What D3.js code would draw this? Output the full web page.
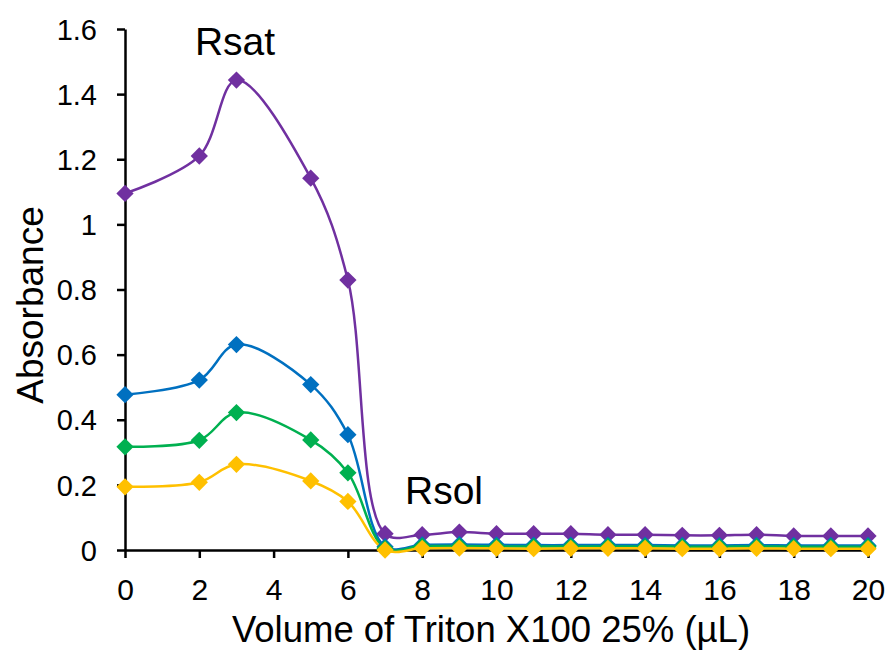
<!DOCTYPE html>
<html><head><meta charset="utf-8">
<script src="https://cdn.jsdelivr.net/npm/d3@7"></script>
<style>body{margin:0;background:#fff}</style>
</head><body>
<script>
const xValues = [0,2,3,5,6,7,8,9,10,11,12,13,14,15,16,17,18,19,20];
const purple = [1.095,1.21,1.443,1.142,0.829,0.05,0.047,0.055,0.05,0.05,0.05,0.047,0.047,0.045,0.045,0.047,0.043,0.043,0.043];
const blue   = [0.477,0.522,0.631,0.508,0.354,0.01,0.016,0.017,0.016,0.015,0.015,0.015,0.015,0.014,0.014,0.015,0.014,0.014,0.014];
const green  = [0.317,0.337,0.422,0.338,0.237,0.005,0.012,0.012,0.011,0.011,0.011,0.011,0.011,0.01,0.01,0.011,0.01,0.01,0.01];
const yellow = [0.194,0.208,0.263,0.212,0.149,0.0,0.005,0.006,0.005,0.004,0.005,0.005,0.005,0.004,0.004,0.005,0.004,0.004,0.004];
const seriesNames = ["purple","blue","green","yellow"];
const seriesColors = ["#7030A0","#0070C0","#00B050","#FFC000"];
const xTicks = [0,2,4,6,8,10,12,14,16,18,20];
const yTicks = [0,0.2,0.4,0.6,0.8,1,1.2,1.4,1.6];

const W=891,H=653;
const svg=d3.select("body").append("svg").attr("width",W).attr("height",H);
const x=d3.scaleLinear().domain([0,20]).range([125,868]);
const y=d3.scaleLinear().domain([0,1.6]).range([550,29]);
const font="Liberation Sans, Arial, sans-serif";

const yAxis=svg.append("g").attr("transform","translate(125,0)")
  .call(d3.axisLeft(y).tickValues(yTicks).tickSize(8).tickSizeOuter(0).tickFormat(d=>String(+d.toFixed(1))));
const xAxis=svg.append("g").attr("transform","translate(0,550)")
  .call(d3.axisBottom(x).tickValues(xTicks).tickSize(8).tickSizeOuter(0));
[yAxis,xAxis].forEach(g=>{
  g.attr("font-size",null).attr("font-family",null);
  g.select(".domain").attr("stroke","#000").attr("stroke-width",2.5);
  g.selectAll(".tick line").attr("stroke","#000").attr("stroke-width",2.5);
  g.selectAll(".tick text").attr("font-family",font).attr("fill","#000");
});
yAxis.selectAll(".tick text").attr("font-size",29).attr("x",-28).attr("dy","0.35em");
xAxis.selectAll(".tick text").attr("font-size",30).attr("y",50).attr("dy",0);

const all=[purple,blue,green,yellow];
const line=d3.line().x((d,i)=>x(xValues[i])).y(d=>y(d)).curve(d3.curveCatmullRom.alpha(0.5));
const sym=d3.symbol().type(d3.symbolDiamond2).size(190);
all.forEach((vals,k)=>{
  svg.append("path").datum(vals).attr("d",line).attr("fill","none").attr("stroke",seriesColors[k]).attr("stroke-width",2.5);
});
all.forEach((vals,k)=>{
  svg.append("g").selectAll("path").data(vals).join("path")
    .attr("transform",(d,i)=>`translate(${x(xValues[i])},${y(d)})`)
    .attr("d",sym).attr("fill",seriesColors[k]);
});

svg.append("text").attr("x",235).attr("y",55).attr("text-anchor","middle").attr("font-family",font).attr("font-size",39).text("Rsat");
svg.append("text").attr("x",444).attr("y",504).attr("text-anchor","middle").attr("font-family",font).attr("font-size",39).text("Rsol");
svg.append("text").attr("x",491).attr("y",642).attr("text-anchor","middle").attr("font-family",font).attr("font-size",36.5).text("Volume of Triton X100 25% (µL)");
svg.append("text").attr("transform","translate(43,305) rotate(-90)").attr("text-anchor","middle").attr("font-family",font).attr("font-size",37).text("Absorbance");
</script>
</body></html>
